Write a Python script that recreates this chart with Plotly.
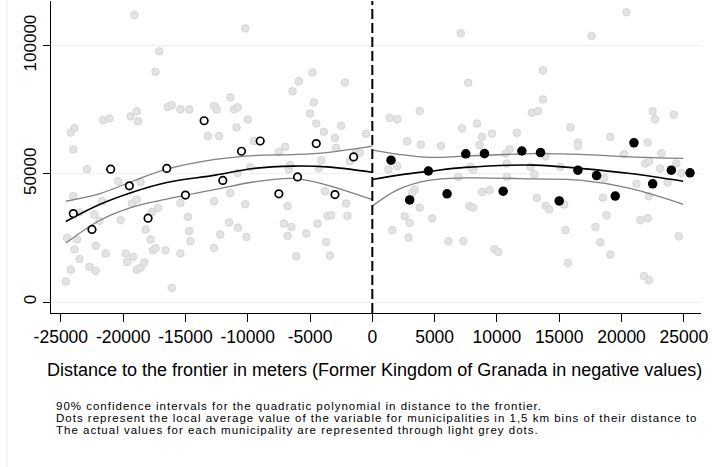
import plotly.graph_objects as go

# ---------------- data ----------------
x_tick_vals = [-25000, -20000, -15000, -10000, -5000, 0, 5000, 10000, 15000, 20000, 25000]
x_tick_text = ["-25000", "-20000", "-15000", "-10000", "-5000", "0", "5000", "10000", "15000", "20000", "25000"]
y_tick_vals = [0, 50000, 100000]
y_tick_text = ["0", "50000", "100000"]

# individual municipalities (light grey dots)
raw_x = [-19100, -17100, -17400, -11400, -24200, -23900, -24000, -21600, -21100, -19400, -18900, -18800,
         -16400, -16100, -15400, -14700, -12700, -12500, -11100, -10800, -13200, -12300, -10900, -22900,
         -20400, -18600, -24000, -21700, -19300, -18900, -22300, -21900, -23500, -20200, -17700, -17200,
         -15400, -14800, -14700, -14600, -12700, -11400, -11500, -12200, -12700, -10800, -24500, -23700,
         -23900, -23500, -24200, -24600, -22200, -22700, -22200, -21400, -19800, -19700, -19200, -18900,
         -18600, -18300, -18200, -17800, -17600, -17400, -16600, -15400, -16100, -10800, -10200, -4800,
         -5900, -6400, -2200, -4700, -5000, -10000, -4500, -2500, -3900, -500, -3000, -9500,
         -7000, -7500, -2900, -1300, -4100, -10200, -10100, -9800, -6800, -7100, -6500, -6800,
         -6100, -5300, -4400, -3700, -3400, -3600, -3300, -2000, -2100, -3800, -4300, -6700,
         -1800, -1000, -6600,
         7100, 7700, 3800, 1400, 2000, 7200, 2800, 3900, 5500, 2000, 1300, 3400,
         3200, 3800, 2600, 3000, 4800, 1600, 2900, 6100, 7300, 6900, 8800, 9600,
         8600, 11600, 8800, 9400, 8100, 7900, 10800, 10800, 12700, 7800, 8100, 20400,
         17600, 13700, 13700, 12800, 13300, 22500, 22700, 24200, 8400, 15900, 16500, 16500,
         19100, 22100, 20200, 23200, 11000, 10700, 13900, 9800, 10100, 13000, 13200, 13900,
         14200, 15100, 15500, 15400, 15700, 17900, 18300, 19100, 18800, 18500, 18600, 21200,
         21500, 22100, 22200, 21800, 22200, 21900, 22200, 23100, 23700, 24400, 24800, 24600]
raw_y = [111900, 97800, 89800, 79800, 66100, 67800, 59500, 70900, 71600, 72400, 74400, 70500,
         76100, 76800, 75100, 75100, 76500, 75100, 75100, 75900, 64700, 64700, 68100, 51800,
         47100, 46800, 41300, 39300, 38400, 40000, 34100, 31600, 35000, 31900, 35100, 36700,
         38600, 33200, 27700, 23700, 39300, 42500, 31000, 26300, 21100, 29000, 25000, 24400,
         20500, 16800, 12600, 8000, 21900, 13700, 12100, 18900, 18900, 15600, 17600, 12600,
         13400, 15400, 28300, 24400, 20200, 21000, 20200, 18900, 5500, 50300, 106700, 89500,
         86100, 82200, 85600, 77800, 73500, 71200, 69600, 68700, 66400, 65600, 64000, 62800,
         60500, 58500, 60100, 58500, 55300, 38100, 25400, 52500, 37400, 30600, 29300, 25800,
         17800, 26700, 30600, 23400, 18100, 33600, 33800, 33600, 38400, 43200, 52100, 51800,
         54900, 58200, 53400,
         104800, 85500, 74500, 71800, 71300, 67700, 62700, 61400, 60900, 53000, 51700, 43900,
         42500, 36800, 33400, 30800, 32600, 28000, 25100, 23700, 23800, 48800, 64400, 65700,
         61200, 66000, 42900, 43600, 51600, 52700, 54000, 48800, 52700, 37400, 36800, 113000,
         103800, 90300, 79000, 73800, 74500, 74400, 71300, 73100, 69600, 68100, 62100, 60900,
         64400, 62200, 57600, 58000, 59600, 57900, 56800, 20600, 19500, 49800, 40600, 37500,
         36100, 52700, 28000, 38000, 15200, 29300, 23300, 18500, 33800, 40700, 48300, 46100,
         31900, 32700, 41300, 10100, 8500, 54000, 54900, 52100, 46600, 54000, 50300, 25600]

# 1.5 km bin averages
bins_left_x = [-24000, -22500, -21000, -19500, -18000, -16500, -15000, -13500,
               -12000, -10500, -9000, -7500, -6000, -4500, -3000, -1500]
bins_left_y = [34500, 28300, 51800, 45300, 32700, 52100, 41700, 70700,
               47400, 58800, 62800, 42200, 48800, 61800, 41900, 56600]
bins_right_x = [1500, 3000, 4500, 6000, 7500, 9000, 10500, 12000, 13500,
                15000, 16500, 18000, 19500, 21000, 22500, 24000, 25500]
bins_right_y = [55300, 39800, 51100, 42200, 57800, 57900, 43200, 58900, 58300,
                39400, 51400, 49300, 41300, 62100, 46100, 51400, 50400]

# quadratic fit and 90% CI
fit_left_x = [-24600, -21850, -19200, -16500, -12600, -9550, -6350, -3650, 0]
fit_left_y = [31400, 38100, 42900, 46600, 49500, 52100, 53000, 52700, 50600]
ci_left_hi = [39300, 42300, 47200, 51800, 55600, 57100, 57500, 58300, 60800]
ci_left_lo = [23000, 31900, 37100, 40100, 43900, 46800, 48200, 45600, 39900]

fit_right_x = [0, 2100, 4600, 7450, 13050, 16650, 20700, 24950]
fit_right_y = [47800, 49500, 51000, 52500, 53400, 52100, 50100, 47100]
ci_right_hi = [59200, 57600, 56400, 56900, 57900, 57600, 56600, 56000]
ci_right_lo = [37400, 43900, 47500, 48400, 48000, 47500, 44300, 38100]

notes = [
    "90% confidence intervals for the quadratic polynomial in distance to the frontier.",
    "Dots represent the local average value of the variable for municipalities in 1,5 km bins of their distance to",
    "The actual values for each municipality are represented through light grey dots.",
]
x_title = "Distance to the frontier in meters (Former Kingdom of Granada in negative values)"

# ---------------- figure ----------------
FONT = "Liberation Sans, Arial, sans-serif"
fig = go.Figure()

fig.add_trace(go.Scatter(
    x=raw_x, y=raw_y, mode="markers",
    marker=dict(size=7.5, color="#E3E3E3", line=dict(color="#D4D4D4", width=1)),
    showlegend=False, hoverinfo="skip"))

for xs, ys, col, w in [
    (fit_left_x, ci_left_hi, "#7F7F7F", 1.3),
    (fit_left_x, ci_left_lo, "#7F7F7F", 1.3),
    (fit_right_x, ci_right_hi, "#7F7F7F", 1.3),
    (fit_right_x, ci_right_lo, "#7F7F7F", 1.3),
    (fit_left_x, fit_left_y, "#000000", 1.6),
    (fit_right_x, fit_right_y, "#000000", 1.6),
]:
    fig.add_trace(go.Scatter(x=xs, y=ys, mode="lines",
                             line=dict(color=col, width=w, shape="spline", smoothing=1.0),
                             showlegend=False, hoverinfo="skip"))

fig.add_trace(go.Scatter(
    x=bins_left_x, y=bins_left_y, mode="markers",
    marker=dict(size=7.5, color="white", line=dict(color="black", width=1.7)),
    showlegend=False))
fig.add_trace(go.Scatter(
    x=bins_right_x, y=bins_right_y, mode="markers",
    marker=dict(size=9.5, color="black", line=dict(color="black", width=0)),
    showlegend=False))

# frontier
fig.add_shape(type="line", xref="x", yref="paper", x0=0, x1=0, y0=0, y1=1,
              line=dict(color="black", width=2, dash="10px,4px"))
# faint outer frame line on the left
fig.add_shape(type="line", xref="paper", yref="paper", x0=-0.0677, x1=-0.0677, y0=-0.5, y1=1.01,
              line=dict(color="#E6EEF0", width=1))

fig.add_annotation(text=x_title, xref="paper", yref="paper", x=0.497, y=-0.184,
                   xanchor="center", yanchor="middle", showarrow=False,
                   font=dict(family=FONT, size=18, color="black"))
for i, t in enumerate(notes):
    fig.add_annotation(text='<span style="letter-spacing:1px">' + t + '</span>',
                       xref="paper", yref="paper", x=0.0046, y=-0.297 - i * 0.0395,
                       xanchor="left", yanchor="middle", showarrow=False,
                       font=dict(family=FONT, size=11.5, color="black"))

fig.update_layout(
    width=712, height=467, autosize=False,
    margin=dict(l=51, r=11, t=1, b=154),
    paper_bgcolor="white", plot_bgcolor="white",
    font=dict(family=FONT, color="black"),
    xaxis=dict(range=[-25790, 26380], tickvals=x_tick_vals, ticktext=x_tick_text,
               ticks="outside", ticklen=8, tickcolor="black", tickwidth=1,
               showline=True, linecolor="black", linewidth=1, showgrid=False, zeroline=False,
               tickfont=dict(family=FONT, size=17.5, color="black")),
    yaxis=dict(range=[-4290, 117400], tickvals=y_tick_vals, ticktext=y_tick_text,
               tickangle=-90, ticks="outside", ticklen=7, tickcolor="black", tickwidth=1,
               showline=True, linecolor="black", linewidth=1, showgrid=True,
               gridcolor="#EAF2F3", gridwidth=1, zeroline=False,
               tickfont=dict(family=FONT, size=17, color="black")),
)

fig.write_html("out.html")
